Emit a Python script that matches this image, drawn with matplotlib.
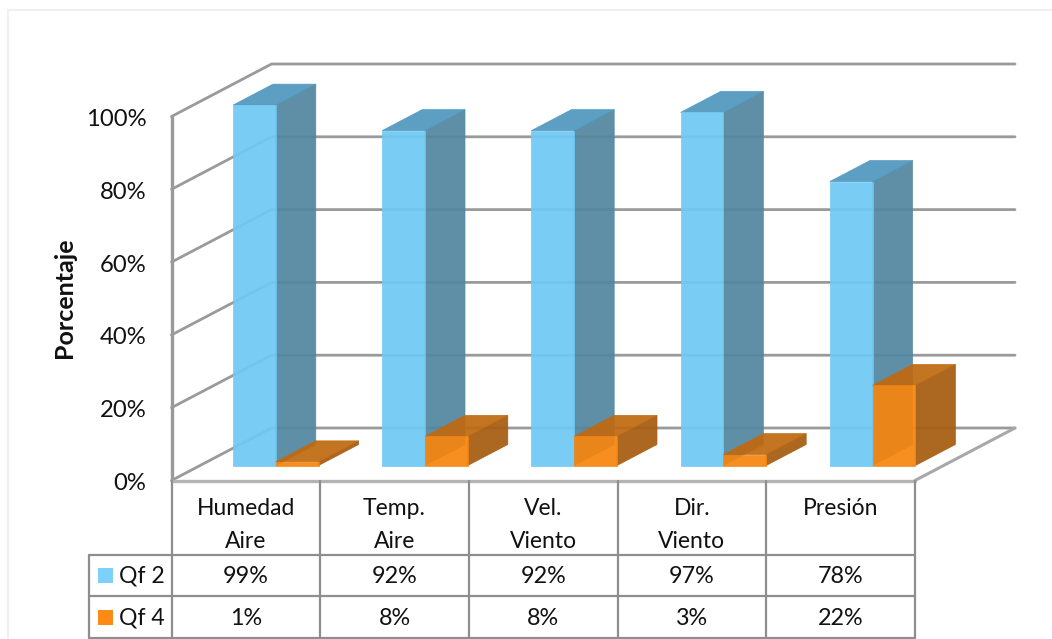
import matplotlib
matplotlib.use("Agg")
import matplotlib.pyplot as plt
from matplotlib.patches import Polygon, Rectangle

categories = [["Humedad", "Aire"], ["Temp.", "Aire"], ["Vel.", "Viento"], ["Dir.", "Viento"], ["Presión"]]
qf2_values = [99, 92, 92, 97, 78]
qf4_values = [1, 8, 8, 3, 22]
y_ticks = [0, 20, 40, 60, 80, 100]

plt.rcParams["font.family"] = ["Lato", "DejaVu Sans"]

W, H = 1052, 639
fig = plt.figure(figsize=(W / 100, H / 100), dpi=100, facecolor="white")
ax = fig.add_axes([0, 0, 1, 1])
ax.set_xlim(0, W)
ax.set_ylim(H, 0)
ax.axis("off")

# Oblique projection of the chart box
X0, Y0 = 171.5, 480.5      # front-left floor corner
CAT_W = 148.7
BAR_PITCH = 149.2
PX_PER_PCT = 3.64
WALL_DX, WALL_DY = 100, -52.5
BAR_DX, BAR_DY = 40, -21
BAR_BASE_Y = 465.5
BAR_OFFSET = 61.5
BAR_W = 42.8
n = len(categories)
X1 = X0 + CAT_W * n

GRID = "#9a9a9a"
RULE = "#8e8e8e"
TEXT = "#111111"


def wall_y(pct):
    return Y0 - pct * PX_PER_PCT


def line(xs, ys, color=GRID, lw=2.0, z=1):
    ax.plot(xs, ys, color=color, lw=lw, solid_capstyle="round", zorder=z)


# Frame of the chart area
line([8, 8], [10, 639], "#f0f0f0", 1.5, 0)
line([8, W], [10, 10], "#f0f0f0", 1.5, 0)

# Walls and gridlines
for t in y_ticks:
    y = wall_y(t)
    line([X0, X0 + WALL_DX, X1 + WALL_DX], [y, y + WALL_DY, y + WALL_DY])
    ax.text(146.5, y + 9.5, f"{t}%", ha="right", va="baseline", fontsize=17.2, color=TEXT)
line([X0, X0], [wall_y(100), Y0], GRID, 2.4)
line([X0, X1], [Y0, Y0], "#b4b4b4", 2.4)
line([X1, X1 + WALL_DX], [Y0, Y0 + WALL_DY], "#a8a8a8", 2.2)

ax.text(64, 298, "Porcentaje", rotation=90, ha="center", va="center",
        fontsize=18, fontweight="bold", color=TEXT)


def draw_bar(x, value, front, side, top, z):
    y_top = BAR_BASE_Y - value * PX_PER_PCT
    box = [
        ([(x + BAR_W, BAR_BASE_Y), (x + BAR_W + BAR_DX, BAR_BASE_Y + BAR_DY),
          (x + BAR_W + BAR_DX, y_top + BAR_DY), (x + BAR_W, y_top)], side),
        ([(x, y_top), (x + BAR_DX, y_top + BAR_DY),
          (x + BAR_W + BAR_DX, y_top + BAR_DY), (x + BAR_W, y_top)], top),
        ([(x, BAR_BASE_Y), (x + BAR_W, BAR_BASE_Y), (x + BAR_W, y_top), (x, y_top)], front),
    ]
    for pts, col in box:
        # A hairline edge in the face colour closes the seams between faces
        ax.add_patch(Polygon(pts, closed=True, facecolor=col, edgecolor=col,
                             linewidth=0.5, alpha=0.93, zorder=z))


for i in range(n):
    x = X0 + BAR_PITCH * i + BAR_OFFSET
    draw_bar(x, qf2_values[i], "#6fc9f3", "#52879f", "#5198bf", 3)
    draw_bar(x + BAR_W, qf4_values[i], "#f6850f", "#a65c10", "#c06a10", 4)

# Data table below the plot
ROW_TOP, ROW_A, ROW_B, ROW_C = Y0, 554.5, 596, 637.5
LEG_X = 88.5
for i in range(n + 1):
    line([X0 + CAT_W * i] * 2, [ROW_TOP, ROW_C], RULE, 1.6, 2)
line([LEG_X, LEG_X], [ROW_A, ROW_C], RULE, 1.6, 2)
for y in (ROW_A, ROW_B, ROW_C):
    line([LEG_X, X1], [y, y], RULE, 1.6, 2)

for i, label in enumerate(categories):
    cx = X0 + CAT_W * (i + 0.5)
    for j, part in enumerate(label):
        ax.text(cx, 515 + 33 * j, part, ha="center", va="baseline", fontsize=16.5, color=TEXT)
    ax.text(cx, 583, f"{qf2_values[i]}%", ha="center", va="baseline", fontsize=16.8, color=TEXT)
    ax.text(cx, 625, f"{qf4_values[i]}%", ha="center", va="baseline", fontsize=16.8, color=TEXT)

for name, col, y in (("Qf 2", "#7dd0f8", 583), ("Qf 4", "#fb8a17", 625)):
    ax.add_patch(Rectangle((98, y - 15.5), 15, 15, facecolor=col, edgecolor="none", zorder=3))
    ax.text(119, y, name, ha="left", va="baseline", fontsize=16.6, color=TEXT)

fig.savefig("out.png", dpi=100, facecolor="white")
